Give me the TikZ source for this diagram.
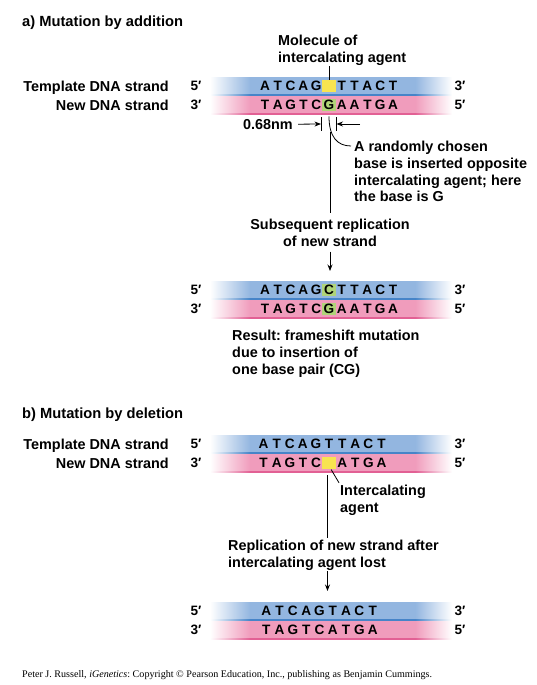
\documentclass[tikz,border=0pt]{standalone}
\usepackage{fontspec}
\setmainfont{Liberation Sans}
\newfontfamily\creditfont{Liberation Serif}
\usetikzlibrary{arrows.meta}
\frenchspacing
\definecolor{strandblue}{RGB}{147,182,224}
\definecolor{edgeblue}{RGB}{70,132,200}
\definecolor{strandpink}{RGB}{240,156,188}
\definecolor{edgepink}{RGB}{226,96,148}
\definecolor{agentyellow}{RGB}{248,228,80}
\definecolor{insertgreen}{RGB}{176,212,120}
\newcommand\strandshading[2]{\pgfdeclarehorizontalshading{#1}{100bp}{color(0bp)=(white); color(25bp)=(white); color(33.3bp)=(#2); color(67.4bp)=(#2); color(75bp)=(white); color(100bp)=(white)}}
\strandshading{blueband}{strandblue}
\strandshading{blueedge}{edgeblue}
\strandshading{pinkband}{strandpink}
\strandshading{pinkedge}{edgepink}
\tikzset{
  headtxt/.style={font=\fontsize{14.7}{17}\selectfont\bfseries, inner sep=0pt},
  plaintxt/.style={font=\fontsize{14.4}{16.8}\selectfont\bfseries, inner sep=0pt},
  basetxt/.style={font=\fontsize{13.6}{15}\selectfont\bfseries, inner sep=0pt},
  agentbox/.style={basetxt, minimum width=14pt, minimum height=12.5pt, fill=agentyellow},
  insertbox/.style={basetxt, minimum width=14pt, minimum height=12.5pt, text height=9.7pt, text depth=0pt, fill=insertgreen},
  leader/.style={draw=black, line width=0.8pt},
  arrowline/.style={leader, -{Stealth[length=6.5pt,width=5pt]}}
}
\begin{document}
\begin{tikzpicture}[x=1pt,y=-1pt]
\useasboundingbox (0,0) rectangle (537,685);
\foreach \y in {86,290,444,611} {
  \shade[shading=blueband] (210,\y-9) rectangle (452,\y+8);
  \shade[shading=blueedge] (210,\y+8) rectangle (452,\y+9.3);
  \shade[shading=pinkband] (210,\y+10.2) rectangle (452,\y+27);
  \shade[shading=pinkedge] (210,\y+27) rectangle (452,\y+28.3);
}
\foreach \y/\n in {86/a1,290/a2,444/b1,611/b2} {
  \node[basetxt] (\n top5) at (196,\y) {5′};
  \node[basetxt] (\n top3) at (460,\y) {3′};
  \node[basetxt] (\n new3) at (196,\y+19) {3′};
  \node[basetxt] (\n new5) at (460,\y+19) {5′};
}
\node[headtxt, anchor=base west] (titleA) at (22,26.3) {a) Mutation by addition};
\node[plaintxt, anchor=base east] (tmplA) at (169,91.2) {Template DNA strand};
\node[plaintxt, anchor=base east] (newA) at (169,110.2) {New DNA strand};
\foreach \i/\b in {0/A,1/T,2/C,3/A,4/G,6/T,7/T,8/A,9/C,10/T}
  \node[basetxt] (a1t\i) at (265+12.8*\i,86) {\b};
\node[agentbox] (agentA) at (329,86) {};
\foreach \i/\b in {0/T,1/A,2/G,3/T,4/C,6/A,7/A,8/T,9/G,10/A}
  \node[basetxt] (a1n\i) at (265+12.8*\i,105) {\b};
\node[insertbox] (a1n5) at (329,105) {G};
\node[plaintxt, align=left, anchor=north west] (molA) at (278,34.8) {Molecule of\\intercalating agent};
\draw[leader, shorten <=1pt] (agentA.north |- molA.south) -- (agentA.north);
\node[plaintxt, anchor=base east] (dimA) at (293,129.2) {0.68nm};
\coordinate (tickAL) at (321,124);
\coordinate (tickAR) at (336.5,124);
\coordinate (dimAR) at (360,124);
\draw[leader, line width=0.6pt] ([yshift=7pt]tickAL) -- ([yshift=-7pt]tickAL) ([yshift=7pt]tickAR) -- ([yshift=-7pt]tickAR);
\draw[arrowline, shorten <=5pt] (dimA.east) -- (tickAL);
\draw[arrowline] (dimAR) -- (tickAR);
\node[plaintxt, align=left, anchor=north west] (randA) at (354,140.8) {A randomly chosen\\base is inserted opposite\\intercalating agent; here\\the base is G};
\draw[leader] ([yshift=-5pt]a1n5.south) .. controls +(0,20) and +(-14,0) .. ([xshift=-3pt,yshift=-5.2pt]randA.north west);
\coordinate (dropA) at (330,132);
\node[plaintxt, align=center, anchor=north] (subsA) at (330,218.8) {Subsequent replication\\of new strand};
\draw[leader, shorten >=6pt] (dropA) -- (subsA.north);
\coordinate (a2top) at (330,271);
\draw[arrowline, shorten <=5pt] (subsA.south) -- (a2top);
\foreach \i/\b in {0/A,1/T,2/C,3/A,4/G,6/T,7/T,8/A,9/C,10/T}
  \node[basetxt] (a2t\i) at (265+12.8*\i,290) {\b};
\node[insertbox] (a2t5) at (329,290) {C};
\foreach \i/\b in {0/T,1/A,2/G,3/T,4/C,6/A,7/A,8/T,9/G,10/A}
  \node[basetxt] (a2n\i) at (265+12.8*\i,309) {\b};
\node[insertbox] (a2n5) at (329,309) {G};
\node[plaintxt, align=left, anchor=north west] (resultA) at (232,329.8) {Result: frameshift mutation\\due to insertion of\\one base pair (CG)};
\node[headtxt, anchor=base west] (titleB) at (22,418.3) {b) Mutation by deletion};
\node[plaintxt, anchor=base east] (tmplB) at (169,449.2) {Template DNA strand};
\node[plaintxt, anchor=base east] (newB) at (169,468.2) {New DNA strand};
\foreach \i/\b in {0/A,1/T,2/C,3/A,4/G,5/T,6/T,7/A,8/C,9/T}
  \node[basetxt] (b1t\i) at (263.6+13.1*\i,444) {\b};
\foreach \i/\b in {0/T,1/A,2/G,3/T,4/C,6/A,7/T,8/G,9/A}
  \node[basetxt] (b1n\i) at (263.6+13.1*\i,463) {\b};
\node[agentbox] (agentB) at (329.1,463) {};
\node[plaintxt, align=left, anchor=north west] (intcB) at (340,484.8) {Intercalating\\agent};
\draw[leader] ([xshift=2pt]agentB.south) -- ([xshift=-1pt,yshift=2pt]intcB.north west);
\coordinate (dropB) at (327.5,475);
\node[plaintxt, align=left, anchor=north west] (replB) at (228,539.8) {Replication of new strand after\\intercalating agent lost};
\draw[leader, shorten >=2pt] (dropB) -- (dropB |- replB.north);
\coordinate (b2top) at (327.5,591);
\draw[arrowline, shorten <=1pt] (b2top |- replB.south) -- (b2top);
\foreach \i/\b in {0/A,1/T,2/C,3/A,4/G,5/T,6/A,7/C,8/T}
  \node[basetxt] (b2t\i) at (266.3+13.3*\i,611) {\b};
\foreach \i/\b in {0/T,1/A,2/G,3/T,4/C,5/A,6/T,7/G,8/A}
  \node[basetxt] (b2n\i) at (266.3+13.3*\i,630) {\b};
\node[anchor=base west, inner sep=0pt, font={\creditfont\fontsize{10.1}{12}\selectfont}] (credit) at (22,677) {Peter J. Russell, \textit{iGenetics}: Copyright © Pearson Education, Inc., publishing as Benjamin Cummings.};
\end{tikzpicture}
\end{document}
